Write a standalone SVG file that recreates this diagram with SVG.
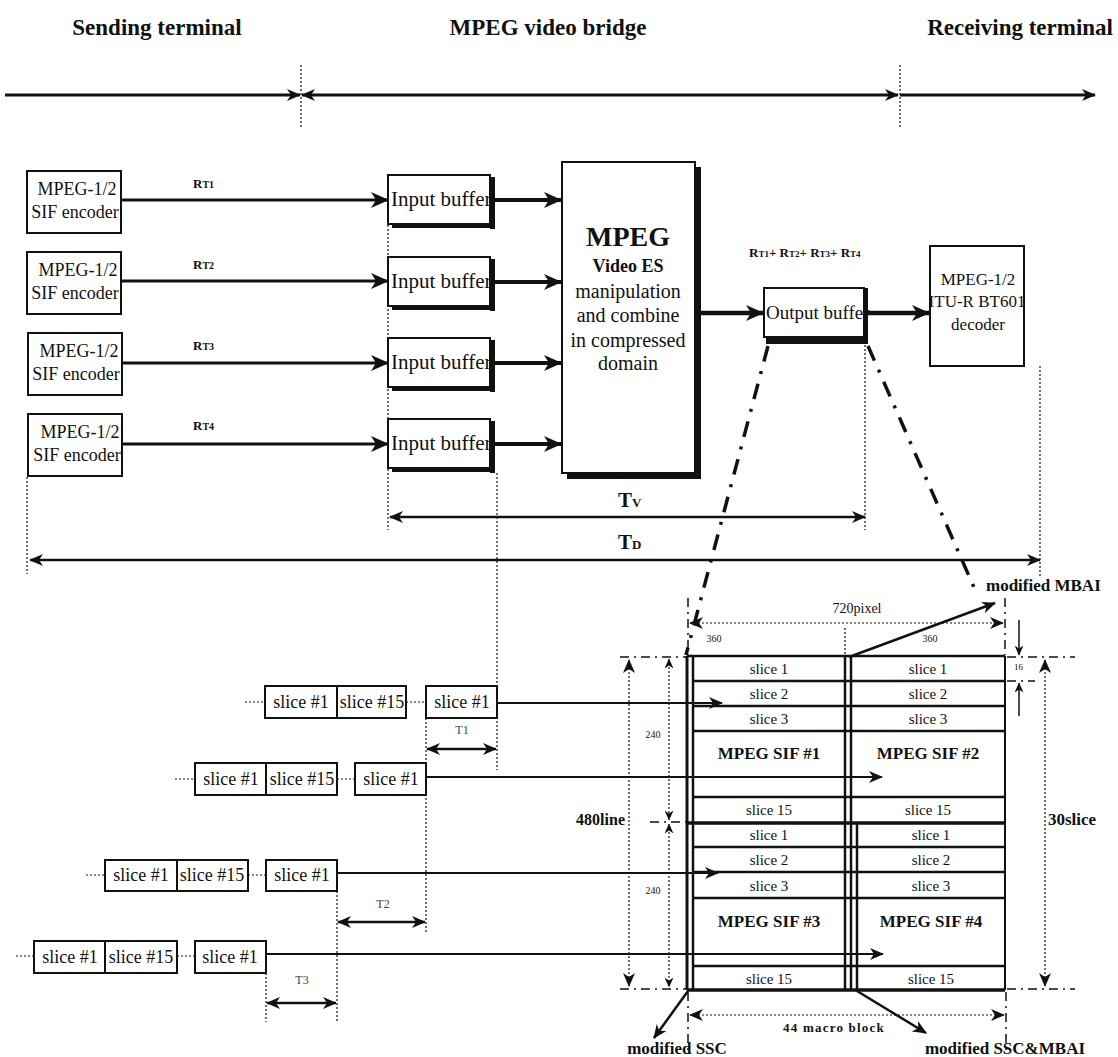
<svg xmlns="http://www.w3.org/2000/svg" width="1118" height="1057" viewBox="0 0 1118 1057">
<style>
text{font-family:"Liberation Serif","Times New Roman",serif;fill:#111}
.hd{font-size:23px;font-weight:bold}
.nd{font-size:18px}
.box{fill:#fff;stroke:#111;stroke-width:2}
.shd{fill:#111}
.ln{stroke:#111;fill:none}
.dot{stroke:#111;fill:none;stroke-width:1.2;stroke-dasharray:2 2}
.dd{stroke:#111;fill:none;stroke-width:1.5;stroke-dasharray:9 5 2 5}
.dc{stroke:#111;fill:none;stroke-width:3.5;stroke-dasharray:16 10 3 10}
.rt{font-size:13px;font-weight:bold}
.sl{font-size:18px}
.gs{font-size:15px}
.gb{font-size:17px;font-weight:bold}
.sm{font-size:10px}
.lb{font-size:16px;font-weight:bold}
.ml{font-size:17px;font-weight:bold}
</style>
<defs>
<marker id="big" viewBox="0 0 18 16" refX="17" refY="8" markerWidth="18" markerHeight="16" markerUnits="userSpaceOnUse" orient="auto-start-reverse"><path d="M0,0 L18,8 L0,16 L5,8 z" fill="#111"/></marker>
<marker id="med" viewBox="0 0 14 12" refX="13" refY="6" markerWidth="14" markerHeight="12" markerUnits="userSpaceOnUse" orient="auto-start-reverse"><path d="M0,0 L14,6 L0,12 L4,6 z" fill="#111"/></marker>
<marker id="sml" viewBox="0 0 10 9" refX="9.5" refY="4.5" markerWidth="10" markerHeight="9" markerUnits="userSpaceOnUse" orient="auto-start-reverse"><path d="M0,0 L10,4.5 L0,9 L3,4.5 z" fill="#111"/></marker>
</defs>

<g id="header">
<text class="hd" x="157" y="35" text-anchor="middle">Sending terminal</text>
<text class="hd" x="548" y="35" text-anchor="middle">MPEG video bridge</text>
<text class="hd" x="1113" y="35" text-anchor="end">Receiving terminal</text>
<line class="dot" x1="301" y1="65" x2="301" y2="128"/>
<line class="dot" x1="900" y1="65" x2="900" y2="128"/>
<line class="ln" stroke-width="3" x1="5" y1="95" x2="300" y2="95" marker-end="url(#med)"/>
<line class="ln" stroke-width="3" x1="302" y1="95" x2="898" y2="95" marker-start="url(#med)" marker-end="url(#med)"/>
<line class="ln" stroke-width="3" x1="900" y1="95" x2="1095" y2="95" marker-end="url(#med)"/>
</g>

<g id="enc1"><rect class="box" x="27" y="171" width="94" height="62"/><text class="nd" x="77" y="195" text-anchor="middle">MPEG-1/2</text><text class="nd" x="75" y="218" text-anchor="middle">SIF encoder</text></g>
<g id="enc2"><rect class="box" x="27" y="252" width="94" height="62"/><text class="nd" x="78" y="276" text-anchor="middle">MPEG-1/2</text><text class="nd" x="75" y="299" text-anchor="middle">SIF encoder</text></g>
<g id="enc3"><rect class="box" x="28" y="333" width="94" height="62"/><text class="nd" x="79" y="357" text-anchor="middle">MPEG-1/2</text><text class="nd" x="76" y="380" text-anchor="middle">SIF encoder</text></g>
<g id="enc4"><rect class="box" x="28" y="414" width="94" height="62"/><text class="nd" x="80" y="438" text-anchor="middle">MPEG-1/2</text><text class="nd" x="77" y="461" text-anchor="middle">SIF encoder</text></g>

<g id="ib1"><rect class="box" x="388" y="175" width="102" height="49"/><text x="391" y="206" style="font-size:21px">Input buffer</text><rect class="shd" x="490" y="177" width="5" height="52"/><rect class="shd" x="392" y="224" width="103" height="4"/></g>
<g id="ib2"><rect class="box" x="388" y="257" width="102" height="49"/><text x="391" y="288" style="font-size:21px">Input buffer</text><rect class="shd" x="490" y="259" width="5" height="52"/><rect class="shd" x="392" y="306" width="103" height="4"/></g>
<g id="ib3"><rect class="box" x="388" y="338" width="102" height="49"/><text x="391" y="369" style="font-size:21px">Input buffer</text><rect class="shd" x="490" y="340" width="5" height="52"/><rect class="shd" x="392" y="387" width="103" height="4"/></g>
<g id="ib4"><rect class="box" x="388" y="419" width="102" height="49"/><text x="391" y="450" style="font-size:21px">Input buffer</text><rect class="shd" x="490" y="421" width="5" height="52"/><rect class="shd" x="392" y="468" width="103" height="4"/></g>

<g id="mpeg">
<rect class="shd" x="567" y="167" width="134" height="312"/>
<rect class="box" x="562" y="162" width="133" height="311"/>
<text x="628" y="246" text-anchor="middle" style="font-size:28px;font-weight:bold">MPEG</text>
<text x="628" y="272" text-anchor="middle" style="font-size:18px;font-weight:bold">Video ES</text>
<text x="628" y="298" text-anchor="middle" style="font-size:20px">manipulation</text>
<text x="628" y="322" text-anchor="middle" style="font-size:20px">and combine</text>
<text x="628" y="347" text-anchor="middle" style="font-size:20px">in compressed</text>
<text x="628" y="370" text-anchor="middle" style="font-size:20px">domain</text>
</g>

<g id="outbuf">
<rect class="box" x="764" y="288" width="100" height="49"/>
<text x="766" y="319" style="font-size:19px">Output buffer</text>
<rect class="shd" x="863" y="288" width="5" height="56"/>
<rect class="shd" x="766" y="337" width="102" height="7"/>
</g>

<g id="decoder">
<rect class="box" x="930" y="246" width="94" height="120"/>
<text x="978" y="285" text-anchor="middle" style="font-size:17px">MPEG-1/2</text>
<text x="977" y="307" text-anchor="middle" style="font-size:17px">ITU-R BT601</text>
<text x="978" y="330" text-anchor="middle" style="font-size:17px">decoder</text>
</g>

<g id="rates">
<text class="rt" x="193" y="188">R<tspan font-size="10">T1</tspan></text>
<text class="rt" x="193" y="269">R<tspan font-size="10">T2</tspan></text>
<text class="rt" x="193" y="350">R<tspan font-size="10">T3</tspan></text>
<text class="rt" x="193" y="430">R<tspan font-size="10">T4</tspan></text>
<text class="rt" x="749" y="257">R<tspan font-size="9">T1</tspan>+ R<tspan font-size="9">T2</tspan>+ R<tspan font-size="9">T3</tspan>+ R<tspan font-size="9">T4</tspan></text>
</g>

<g id="connectors">
<line class="ln" stroke-width="3" x1="121" y1="200" x2="388" y2="200" marker-end="url(#big)"/>
<line class="ln" stroke-width="3" x1="121" y1="281" x2="388" y2="281" marker-end="url(#big)"/>
<line class="ln" stroke-width="3" x1="122" y1="363" x2="388" y2="363" marker-end="url(#big)"/>
<line class="ln" stroke-width="3" x1="122" y1="444" x2="388" y2="444" marker-end="url(#big)"/>
<line class="ln" stroke-width="4" x1="495" y1="200" x2="561" y2="200" marker-end="url(#big)"/>
<line class="ln" stroke-width="4" x1="495" y1="282" x2="561" y2="282" marker-end="url(#big)"/>
<line class="ln" stroke-width="4" x1="495" y1="363" x2="561" y2="363" marker-end="url(#big)"/>
<line class="ln" stroke-width="4" x1="495" y1="444" x2="561" y2="444" marker-end="url(#big)"/>
<line class="ln" stroke-width="4.5" x1="701" y1="313" x2="763" y2="313" marker-end="url(#big)"/>
<line class="ln" stroke-width="4.5" x1="868" y1="313" x2="929" y2="313" marker-end="url(#big)"/>
<line class="dc" x1="768" y1="346" x2="686" y2="655"/>
<line class="dc" x1="868" y1="346" x2="976" y2="592"/>
</g>

<g id="timing">
<line class="dot" x1="27" y1="477" x2="27" y2="574"/>
<line class="dot" x1="388" y1="225" x2="388" y2="530"/>
<line class="dot" x1="865" y1="345" x2="865" y2="530"/>
<line class="dot" x1="1040" y1="366" x2="1040" y2="576"/>
<line class="dot" x1="497" y1="473" x2="497" y2="770"/>
<text x="618" y="507" style="font-size:21px;font-weight:bold">T<tspan font-size="13">V</tspan></text>
<line class="ln" stroke-width="2.5" x1="390" y1="517" x2="865" y2="517" marker-start="url(#med)" marker-end="url(#med)"/>
<text x="618" y="549" style="font-size:21px;font-weight:bold">T<tspan font-size="13">D</tspan></text>
<line class="ln" stroke-width="2.5" x1="30" y1="560" x2="1040" y2="560" marker-start="url(#med)" marker-end="url(#med)"/>
</g>

<g id="grid">
<g class="ln" stroke-width="2.5">
<line x1="687" y1="656" x2="687" y2="990" stroke-width="3"/><line x1="693" y1="656" x2="693" y2="990"/>
<line x1="845" y1="656" x2="845" y2="990"/><line x1="851" y1="656" x2="851" y2="990"/>
<line x1="857" y1="823" x2="857" y2="990"/>
<line x1="1005" y1="656" x2="1005" y2="990" stroke-width="2"/>
<line x1="687" y1="656" x2="1005" y2="656"/>
<line x1="693" y1="681" x2="1005" y2="681"/>
<line x1="693" y1="706" x2="1005" y2="706"/>
<line x1="693" y1="731" x2="1005" y2="731"/>
<line x1="693" y1="797" x2="1005" y2="797"/>
<line x1="687" y1="823" x2="1005" y2="823" stroke-width="3.5"/>
<line x1="693" y1="847" x2="1005" y2="847"/>
<line x1="693" y1="872" x2="1005" y2="872"/>
<line x1="693" y1="898" x2="1005" y2="898"/>
<line x1="693" y1="966" x2="1005" y2="966"/>
<line x1="687" y1="990" x2="1005" y2="990" stroke-width="3.5"/>
</g>
<g text-anchor="middle">
<text class="gs" x="769" y="674">slice 1</text><text class="gs" x="928" y="674">slice 1</text>
<text class="gs" x="769" y="699">slice 2</text><text class="gs" x="928" y="699">slice 2</text>
<text class="gs" x="769" y="724">slice 3</text><text class="gs" x="928" y="724">slice 3</text>
<text class="gb" x="769" y="759">MPEG SIF #1</text><text class="gb" x="928" y="759">MPEG SIF #2</text>
<text class="gs" x="769" y="815">slice 15</text><text class="gs" x="928" y="815">slice 15</text>
<text class="gs" x="769" y="840">slice 1</text><text class="gs" x="931" y="840">slice 1</text>
<text class="gs" x="769" y="865">slice 2</text><text class="gs" x="931" y="865">slice 2</text>
<text class="gs" x="769" y="891">slice 3</text><text class="gs" x="931" y="891">slice 3</text>
<text class="gb" x="769" y="927">MPEG SIF #3</text><text class="gb" x="931" y="927">MPEG SIF #4</text>
<text class="gs" x="769" y="984">slice 15</text><text class="gs" x="931" y="984">slice 15</text>
</g>
</g>

<g id="slices">
<line class="dot" x1="245" y1="702" x2="265" y2="702"/>
<rect class="box" x="265" y="686" width="72" height="32"/><rect class="box" x="337" y="686" width="69" height="32"/>
<line class="dot" x1="406" y1="702" x2="426" y2="702"/>
<rect class="box" x="426" y="686" width="71" height="32"/>
<text class="sl" x="301" y="708" text-anchor="middle">slice #1</text><text class="sl" x="372" y="708" text-anchor="middle">slice #15</text><text class="sl" x="462" y="708" text-anchor="middle">slice #1</text>
<line class="ln" stroke-width="2" x1="497" y1="703" x2="722" y2="703" marker-end="url(#med)"/>

<line class="dot" x1="175" y1="779" x2="195" y2="779"/>
<rect class="box" x="195" y="763" width="71" height="32"/><rect class="box" x="266" y="763" width="71" height="32"/>
<line class="dot" x1="337" y1="779" x2="355" y2="779"/>
<rect class="box" x="355" y="763" width="71" height="32"/>
<text class="sl" x="231" y="785" text-anchor="middle">slice #1</text><text class="sl" x="302" y="785" text-anchor="middle">slice #15</text><text class="sl" x="391" y="785" text-anchor="middle">slice #1</text>
<line class="ln" stroke-width="2" x1="426" y1="777" x2="882" y2="777" marker-end="url(#med)"/>

<line class="dot" x1="86" y1="875" x2="105" y2="875"/>
<rect class="box" x="105" y="860" width="72" height="31"/><rect class="box" x="177" y="860" width="71" height="31"/>
<line class="dot" x1="248" y1="875" x2="266" y2="875"/>
<rect class="box" x="266" y="860" width="71" height="31"/>
<text class="sl" x="141" y="881" text-anchor="middle">slice #1</text><text class="sl" x="212" y="881" text-anchor="middle">slice #15</text><text class="sl" x="302" y="881" text-anchor="middle">slice #1</text>
<line class="ln" stroke-width="2" x1="337" y1="873" x2="718" y2="873" marker-end="url(#med)"/>

<line class="dot" x1="16" y1="956" x2="34" y2="956"/>
<rect class="box" x="34" y="941" width="71" height="32"/><rect class="box" x="105" y="941" width="72" height="32"/>
<line class="dot" x1="177" y1="956" x2="195" y2="956"/>
<rect class="box" x="195" y="941" width="71" height="32"/>
<text class="sl" x="70" y="963" text-anchor="middle">slice #1</text><text class="sl" x="141" y="963" text-anchor="middle">slice #15</text><text class="sl" x="230" y="963" text-anchor="middle">slice #1</text>
<line class="ln" stroke-width="2" x1="266" y1="954" x2="883" y2="954" marker-end="url(#med)"/>

<line class="dot" x1="426" y1="718" x2="426" y2="933"/>
<line class="dot" x1="337" y1="891" x2="337" y2="1022"/>
<line class="dot" x1="266" y1="973" x2="266" y2="1022"/>
<text x="462" y="734" text-anchor="middle" style="font-size:12px;fill:#444">T1</text>
<line class="ln" stroke-width="2.5" x1="427" y1="749" x2="496" y2="749" marker-start="url(#med)" marker-end="url(#med)"/>
<text x="383" y="908" text-anchor="middle" style="font-size:12px;fill:#444">T2</text>
<line class="ln" stroke-width="2.5" x1="338" y1="922" x2="425" y2="922" marker-start="url(#med)" marker-end="url(#med)"/>
<text x="302" y="984" text-anchor="middle" style="font-size:12px;fill:#444">T3</text>
<line class="ln" stroke-width="2.5" x1="267" y1="1003" x2="336" y2="1003" marker-start="url(#med)" marker-end="url(#med)"/>
</g>

<g id="dimensions">
<line class="dd" x1="620" y1="657" x2="686" y2="657"/>
<line class="dd" x1="620" y1="989" x2="686" y2="989"/>
<line class="dd" x1="650" y1="822" x2="686" y2="822"/>
<line class="dot" x1="629" y1="660" x2="629" y2="986" marker-start="url(#med)" marker-end="url(#med)"/>
<text class="lb" x="625" y="825" text-anchor="end">480line</text>
<line class="dot" x1="669" y1="659" x2="669" y2="820" marker-start="url(#sml)" marker-end="url(#sml)"/>
<line class="dot" x1="669" y1="824" x2="669" y2="987" marker-start="url(#sml)" marker-end="url(#sml)"/>
<text class="sm" x="653" y="738" text-anchor="middle">240</text>
<text class="sm" x="653" y="894" text-anchor="middle">240</text>

<line class="dd" x1="1007" y1="657" x2="1075" y2="657"/>
<line class="dd" x1="1007" y1="989" x2="1075" y2="989"/>
<line class="dd" x1="1007" y1="681" x2="1035" y2="681"/>
<line class="dot" x1="1045" y1="660" x2="1045" y2="986" marker-start="url(#med)" marker-end="url(#med)"/>
<text class="lb" x="1048" y="825" style="font-size:17px">30slice</text>
<line class="ln" stroke-width="1.5" x1="1019" y1="620" x2="1019" y2="655" marker-end="url(#sml)"/>
<line class="ln" stroke-width="1.5" x1="1019" y1="716" x2="1019" y2="683" marker-end="url(#sml)"/>
<text x="1014" y="670" style="font-size:9px">16</text>

<line class="dd" x1="688" y1="598" x2="688" y2="655"/>
<line class="dd" x1="1005" y1="598" x2="1005" y2="655"/>
<line class="dot" x1="690" y1="623" x2="1003" y2="623" marker-start="url(#med)" marker-end="url(#med)"/>
<text x="857" y="613" text-anchor="middle" style="font-size:14px">720pixel</text>
<line class="dot" x1="845" y1="628" x2="845" y2="656"/>
<text class="sm" x="714" y="642" text-anchor="middle">360</text>
<text class="sm" x="930" y="642" text-anchor="middle">360</text>
<line class="ln" stroke-width="2.5" x1="849" y1="657" x2="995" y2="603" marker-end="url(#med)"/>
<text class="ml" x="986" y="591">modified MBAI</text>

<line class="dd" x1="688" y1="992" x2="688" y2="1050"/>
<line class="dd" x1="1006" y1="992" x2="1006" y2="1050"/>
<line class="dot" x1="690" y1="1015" x2="1004" y2="1015" marker-start="url(#med)" marker-end="url(#med)"/>
<text x="834" y="1032" text-anchor="middle" style="font-size:13px;font-weight:bold;letter-spacing:1.2px">44 macro block</text>
<line class="ln" stroke-width="2.5" x1="688" y1="991" x2="654" y2="1038" marker-end="url(#med)"/>
<text class="ml" x="677" y="1054" text-anchor="middle">modified SSC</text>
<line class="ln" stroke-width="2.5" x1="857" y1="991" x2="926" y2="1033" marker-end="url(#med)"/>
<text class="ml" x="1005" y="1054" text-anchor="middle">modified SSC&amp;MBAI</text>
</g>
</svg>
